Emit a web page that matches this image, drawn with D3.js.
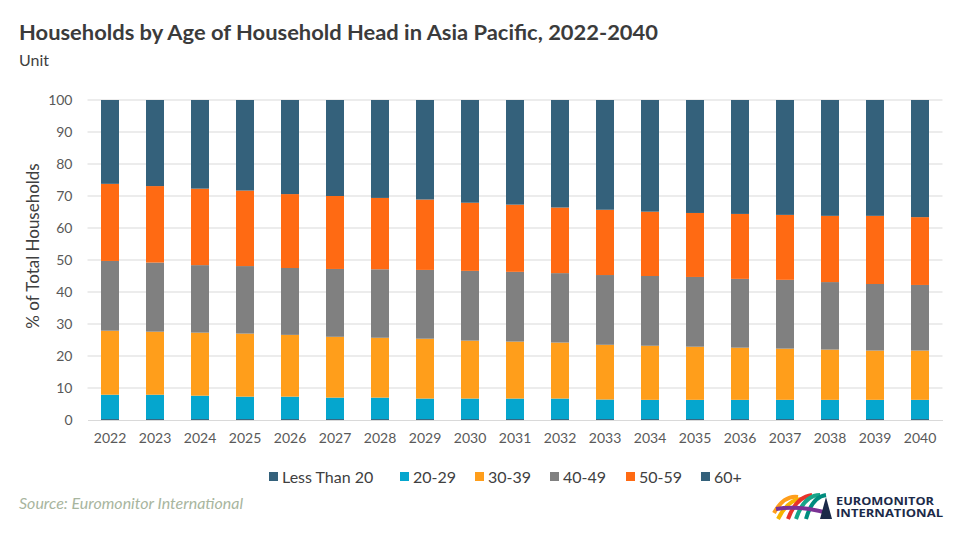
<!DOCTYPE html>
<html>
<head>
<meta charset="utf-8">
<script src="https://cdn.jsdelivr.net/npm/d3@7/dist/d3.min.js"></script>
<style>
  body { margin: 0; background: #fff; }
  svg { display: block; font-family: Lato, "Open Sans", sans-serif; }
</style>
</head>
<body>
<svg id="chart" width="960" height="540"></svg>
<script>
// ----------------------------
// Data
// ----------------------------
var years = ["2022","2023","2024","2025","2026","2027","2028","2029","2030","2031",
             "2032","2033","2034","2035","2036","2037","2038","2039","2040"];
var seriesNames = ["Less Than 20", "20-29", "30-39", "40-49", "50-59", "60+"];
var seriesColors = ["#34617B", "#05A6CE", "#FF9E1B", "#808080", "#FF6A13", "#34617B"];

var lessThan20 = [0.3,0.3,0.3,0.3,0.3,0.3,0.3,0.3,0.3,0.3,0.3,0.3,0.3,0.3,0.3,0.3,0.3,0.3,0.3];
var age20to29  = [7.6,7.6,7.3,7.0,7.0,6.7,6.7,6.4,6.4,6.4,6.4,6.1,6.0,6.0,6.0,6.0,6.0,6.0,6.0];
var age30to39  = [20.0,19.7,19.7,19.7,19.3,19.0,18.7,18.7,18.1,17.8,17.5,17.1,16.9,16.6,16.3,16.0,15.7,15.4,15.4];
var age40to49  = [21.8,21.6,21.1,21.1,20.9,21.2,21.4,21.5,21.8,21.8,21.7,21.8,21.8,21.8,21.5,21.5,21.1,20.8,20.5];
var age50to59  = [24.1,23.9,23.9,23.6,23.1,22.8,22.3,22.0,21.3,21.0,20.5,20.4,20.1,20.0,20.3,20.3,20.7,21.3,21.2];
var age60plus  = [26.2,26.9,27.7,28.3,29.4,30.0,30.6,31.1,32.1,32.7,33.6,34.3,34.9,35.3,35.6,35.9,36.2,36.2,36.6];

var yTicks = [0,10,20,30,40,50,60,70,80,90,100];

// Build the table for d3.stack
var seriesValues = [lessThan20, age20to29, age30to39, age40to49, age50to59, age60plus];
var table = years.map(function (y, i) {
    var row = { year: y };
    seriesNames.forEach(function (name, s) { row[name] = seriesValues[s][i]; });
    return row;
});

// ----------------------------
// Layout
// ----------------------------
var svg = d3.select("#chart");
var plotLeft = 87.5, plotRight = 942.5, plotTop = 100, plotBottom = 420;

var x = d3.scaleBand().domain(years).range([plotLeft, plotRight]).paddingInner(0.6).paddingOuter(0.3);
var y = d3.scaleLinear().domain([0, 100]).range([plotBottom, plotTop]);
var color = d3.scaleOrdinal().domain(seriesNames).range(seriesColors);

// Title
svg.append("text")
    .attr("x", 19).attr("y", 40)
    .attr("font-size", 20).attr("font-weight", "bold").attr("fill", "#3b3b3b")
    .attr("textLength", 639).attr("lengthAdjust", "spacingAndGlyphs")
    .text("Households by Age of Household Head in Asia Pacific, 2022-2040");

svg.append("text")
    .attr("x", 19).attr("y", 66)
    .attr("font-size", 16).attr("fill", "#404040")
    .text("Unit");

// Gridlines
svg.append("g")
    .selectAll("line")
    .data(yTicks.filter(function (d) { return d > 0; }))
    .join("line")
    .attr("x1", plotLeft).attr("x2", plotRight)
    .attr("y1", function (d) { return y(d); })
    .attr("y2", function (d) { return y(d); })
    .attr("stroke", "#d9d9d9").attr("stroke-width", 1);

// Y axis
var yAxis = svg.append("g")
    .attr("transform", "translate(" + plotLeft + ",0)")
    .call(d3.axisLeft(y).tickValues(yTicks).tickSize(0).tickPadding(15));
yAxis.select(".domain").remove();
yAxis.selectAll("text")
    .attr("font-family", "Lato, 'Open Sans', sans-serif")
    .attr("font-size", 14).attr("fill", "#595959");

svg.append("text")
    .attr("transform", "translate(39,246) rotate(-90)")
    .attr("text-anchor", "middle")
    .attr("font-size", 17).attr("fill", "#404040")
    .text("% of Total Households");

// Stacked bars
var stack = d3.stack().keys(seriesNames);
var layers = stack(table);

svg.append("g")
    .selectAll("g")
    .data(layers)
    .join("g")
    .attr("fill", function (d) { return color(d.key); })
    .selectAll("rect")
    .data(function (d) { return d; })
    .join("rect")
    .attr("x", function (d) { return x(d.data.year); })
    .attr("width", x.bandwidth())
    .attr("y", function (d) { return y(d[1]); })
    .attr("height", function (d) { return y(d[0]) - y(d[1]); });

// X axis
var xAxis = svg.append("g")
    .attr("transform", "translate(0," + plotBottom + ")")
    .call(d3.axisBottom(x).tickSize(0).tickPadding(13));
xAxis.select(".domain").attr("stroke", "#d9d9d9");
xAxis.selectAll("text")
    .attr("font-family", "Lato, 'Open Sans', sans-serif")
    .attr("font-size", 14).attr("fill", "#595959");

// ----------------------------
// Legend
// ----------------------------
var legendX = [269, 400, 475, 550, 626, 701];
var legend = svg.append("g")
    .selectAll("g")
    .data(seriesNames)
    .join("g")
    .attr("transform", function (d, i) { return "translate(" + legendX[i] + ",477)"; });
legend.append("rect")
    .attr("x", 0).attr("y", -5).attr("width", 9).attr("height", 9)
    .attr("fill", function (d) { return color(d); });
legend.append("text")
    .attr("x", 13).attr("y", 5.5)
    .attr("font-size", 16).attr("fill", "#404040")
    .text(function (d) { return d; });

// Source
svg.append("text")
    .attr("x", 19).attr("y", 509)
    .attr("font-size", 16).attr("font-style", "italic").attr("fill", "#a8b59e")
    .text("Source: Euromonitor International");

// ----------------------------
// Logo
// ----------------------------
var logo = svg.append("g").attr("transform", "translate(774,493)");
var arcs = [
    { d: "M0,20 Q10,2 24,4", c: "#FF9E1B" },
    { d: "M4,26 Q14,6 28,6", c: "#F7B500" },
    { d: "M14,26 Q22,4 38,2", c: "#E8332A" },
    { d: "M22,26 Q30,2 46,2", c: "#17A589" },
    { d: "M32,26 Q38,4 52,2", c: "#008C7E" },
    { d: "M2,16 Q25,12 54,20", c: "#7B3294" }
];
logo.selectAll("path")
    .data(arcs)
    .join("path")
    .attr("d", function (d) { return d.d; })
    .attr("fill", "none")
    .attr("stroke", function (d) { return d.c; })
    .attr("stroke-width", 4);
logo.append("path")
    .attr("d", "M46,26 L52,4 L58,26 Z")
    .attr("fill", "#1B2A49");
var logoText = logo.append("text")
    .attr("font-family", "'Open Sans', sans-serif").attr("font-weight", "bold")
    .attr("font-size", 11).attr("fill", "#1B2A49");
logoText.append("tspan")
    .attr("x", 62).attr("y", 12)
    .attr("textLength", 98).attr("lengthAdjust", "spacingAndGlyphs")
    .text("EUROMONITOR");
logoText.append("tspan")
    .attr("x", 62).attr("y", 24)
    .attr("textLength", 107).attr("lengthAdjust", "spacingAndGlyphs")
    .text("INTERNATIONAL");
</script>
</body>
</html>
